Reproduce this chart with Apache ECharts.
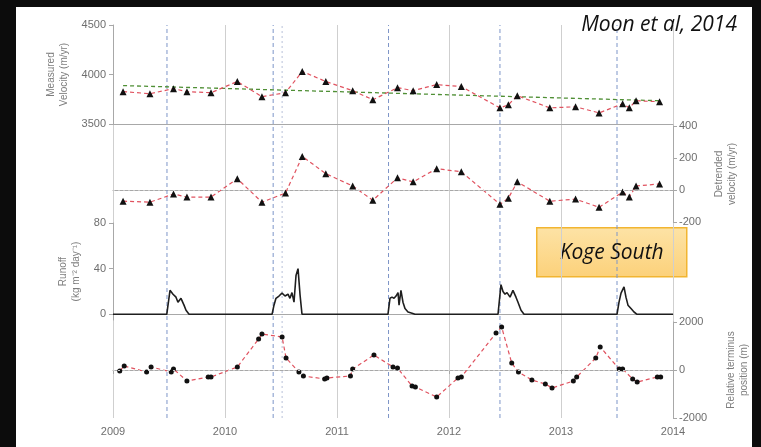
<!DOCTYPE html>
<html>
<head>
<meta charset="utf-8">
<script src="https://cdn.jsdelivr.net/npm/echarts@6/dist/echarts.min.js"></script>
<style>
  html, body { margin: 0; padding: 0; background: #0c0c0c; }
  #paper { position: absolute; left: 16px; top: 7px; width: 736px; height: 440px; background: #ffffff; }
  #chart { position: absolute; left: 0; top: 0; width: 761px; height: 447px; }
</style>
</head>
<body>
<div id="paper"></div>
<div id="chart"></div>
<script>
// measured / detrended velocity (same dates)
var velYears = [2009.09, 2009.33, 2009.54, 2009.66, 2009.875, 2010.11, 2010.33, 2010.54, 2010.69, 2010.90,
                2011.14, 2011.32, 2011.54, 2011.68, 2011.89, 2012.11, 2012.455, 2012.53, 2012.61, 2012.90,
                2013.13, 2013.34, 2013.55, 2013.61, 2013.67, 2013.88];
var velValues = [3827, 3806, 3857, 3827, 3816, 3929, 3776, 3816, 4031, 3929,
                 3837, 3745, 3867, 3837, 3898, 3878, 3663, 3694, 3786, 3663,
                 3674, 3612, 3704, 3663, 3735, 3725];
var detrendedValues = [-70, -76, -25, -44, -44, 70, -76, -19, 210, 102,
                       25, -64, 76, 51, 133, 114, -89, -51, 51, -70,
                       -57, -108, -13, -44, 25, 38];
var trendYears = [2009.09, 2013.88];
var trendValues = [3888, 3735];

// runoff
var runoffYears = [2009.0, 2009.48, 2009.509, 2009.536, 2009.5625, 2009.58, 2009.607, 2009.634, 2009.652, 2009.679,
                   2010.42, 2010.4375, 2010.455, 2010.482, 2010.509, 2010.536, 2010.5625, 2010.58, 2010.598, 2010.616,
                   2010.634, 2010.652, 2010.67, 2010.6875,
                   2011.455, 2011.473, 2011.491, 2011.509, 2011.527, 2011.545, 2011.554, 2011.571, 2011.589, 2011.607,
                   2011.634, 2011.67, 2011.696,
                   2012.4375, 2012.464, 2012.482, 2012.5, 2012.518, 2012.545, 2012.571, 2012.598, 2012.616, 2012.643, 2012.67,
                   2013.5, 2013.518, 2013.536, 2013.5625, 2013.58, 2013.598, 2013.625, 2013.652, 2013.679, 2014.0];
var runoffValues = [0, 0, 21, 17.6, 15, 10.6, 14, 8, 3.5, 0,
                    0, 8, 14, 16, 18.5, 16, 17.6, 14, 19, 10.6,
                    34, 40, 17, 0,
                    0, 14, 15, 14, 16, 19, 8, 21, 10.6, 5,
                    2, 1, 0,
                    0, 26, 20, 17.6, 19, 15, 21, 15, 10.6, 3.5, 0,
                    0, 10.6, 18.5, 24, 15, 8, 5, 2, 0, 0];

// relative terminus position
var termYears = [2009.06, 2009.10, 2009.30, 2009.34, 2009.52, 2009.54, 2009.66, 2009.85, 2009.875, 2010.11,
                 2010.30, 2010.33, 2010.51, 2010.545, 2010.66, 2010.70, 2010.89, 2010.91, 2011.12, 2011.14,
                 2011.33, 2011.50, 2011.54, 2011.67, 2011.70, 2011.89, 2012.08, 2012.11, 2012.42, 2012.47,
                 2012.56, 2012.62, 2012.74, 2012.86, 2012.92, 2013.11, 2013.14, 2013.31, 2013.35, 2013.52,
                 2013.55, 2013.64, 2013.68, 2013.86, 2013.89];
var termValues = [-42, 167, -83, 125, -83, 42, -458, -292, -292, 125,
                  1290, 1500, 1375, 500, -83, -250, -375, -333, -250, 42,
                  625, 125, 83, -667, -708, -1125, -333, -292, 1540, 1790,
                  290, -83, -417, -583, -750, -458, -292, 500, 958, 42,
                  42, -375, -500, -292, -292];

// melt-season markers and year ticks
var seasonLines = [2009.482, 2010.43, 2011.46, 2012.455, 2013.5];
var extraLines = [2010.51];
var yearTicks = [2009, 2010, 2011, 2012, 2013, 2014];

function zip(xs, ys) {
  var out = [];
  for (var i = 0; i < xs.length; i++) out.push([xs[i], ys[i]]);
  return out;
}

var labelStyle = { color: '#6e6e6e', fontSize: 11, fontFamily: 'Liberation Sans' };
var nameStyle = { color: '#7d7d7d', fontSize: 10, fontFamily: 'Liberation Sans', lineHeight: 13 };
var axisGray = { color: '#a8a8a8', width: 1 };
var plain = function (v) { return String(v); };

function hiddenX(idx, showLine) {
  return {
    type: 'value', gridIndex: idx, min: 2009, max: 2014, interval: 1,
    axisLine: { show: showLine, lineStyle: axisGray },
    axisTick: { show: false }, axisLabel: { show: false }, splitLine: { show: false }
  };
}

// full-height vertical line through the overlay grid
function vLine(v, color, dash) {
  return {
    type: 'line', xAxisIndex: 4, yAxisIndex: 4, z: 1, silent: true,
    data: [[v, 0], [v, 1]], symbol: 'none',
    lineStyle: { color: color, type: dash, width: 1 }
  };
}

var series = [];
seasonLines.forEach(function (v) { series.push(vLine(v, '#7d95c8', [4, 3])); });
extraLines.forEach(function (v) { series.push(vLine(v, '#b7c0d8', [2, 3])); });

series.push(
  {
    name: 'trend', type: 'line', xAxisIndex: 0, yAxisIndex: 0, z: 3,
    data: zip(trendYears, trendValues), symbol: 'none',
    lineStyle: { color: '#4f8f35', type: [4, 3], width: 1.3 }
  },
  {
    name: 'velocity', type: 'line', xAxisIndex: 0, yAxisIndex: 0, z: 4,
    data: zip(velYears, velValues), symbol: 'triangle', symbolSize: 7,
    itemStyle: { color: '#111' },
    lineStyle: { color: '#e0525f', type: [4, 3], width: 1.2 }
  },
  {
    name: 'detrended', type: 'line', xAxisIndex: 1, yAxisIndex: 1, z: 4,
    data: zip(velYears, detrendedValues), symbol: 'triangle', symbolSize: 7,
    itemStyle: { color: '#111' },
    lineStyle: { color: '#e0525f', type: [4, 3], width: 1.2 },
    markLine: {
      silent: true, symbol: ['none', 'none'], label: { show: false },
      lineStyle: { color: '#c8c8c8', type: [2, 3], width: 1 },
      data: [{ yAxis: 0 }]
    }
  },
  {
    name: 'runoff', type: 'line', xAxisIndex: 2, yAxisIndex: 2, z: 4,
    data: zip(runoffYears, runoffValues), symbol: 'none',
    lineStyle: { color: '#1e1e1e', width: 1.6 }
  },
  {
    name: 'terminus', type: 'line', xAxisIndex: 3, yAxisIndex: 3, z: 4,
    data: zip(termYears, termValues), symbol: 'circle', symbolSize: 5,
    itemStyle: { color: '#111' },
    lineStyle: { color: '#e0525f', type: [4, 3], width: 1.2 },
    markLine: {
      silent: true, symbol: ['none', 'none'], label: { show: false },
      lineStyle: { color: '#c8c8c8', type: [2, 3], width: 1 },
      data: [{ yAxis: 0 }]
    }
  }
);

var chart = echarts.init(document.getElementById('chart'));
chart.setOption({
  animation: false,
  grid: [
    { left: 113, right: 88, top: 25, height: 99 },
    { left: 113, right: 88, top: 126, height: 96 },
    { left: 113, right: 88, top: 223, height: 97 },
    { left: 113, right: 88, top: 322, height: 96 },
    { left: 113, right: 88, top: 25, height: 393 }
  ],
  xAxis: [
    hiddenX(0, true),
    hiddenX(1, true),
    hiddenX(2, true),
    {
      type: 'value', gridIndex: 3, min: 2009, max: 2014, interval: 1,
      axisLine: { show: true, lineStyle: axisGray },
      axisTick: { show: true, length: 4, lineStyle: axisGray },
      axisLabel: Object.assign({ margin: 8, formatter: function (v) { return yearTicks.indexOf(v) >= 0 ? String(v) : ''; } }, labelStyle),
      splitLine: { show: false }
    },
    {
      type: 'value', gridIndex: 4, min: 2009, max: 2014, interval: 1,
      axisLine: { show: false }, axisTick: { show: false }, axisLabel: { show: false },
      splitLine: { show: true, lineStyle: { color: '#cfcfcf', width: 1 } }
    }
  ],
  yAxis: [
    {
      type: 'value', gridIndex: 0, min: 3500, max: 4500, interval: 500, position: 'left',
      name: 'Measured\nVelocity (m/yr)', nameLocation: 'middle', nameRotate: 90, nameGap: 37,
      nameTextStyle: nameStyle,
      axisLine: { show: true, lineStyle: axisGray },
      axisTick: { show: true, length: 4, lineStyle: axisGray },
      axisLabel: Object.assign({ margin: 7, formatter: plain }, labelStyle),
      splitLine: { show: false }
    },
    {
      type: 'value', gridIndex: 1, min: -200, max: 400, interval: 200, position: 'right',
      name: 'Detrended\nvelocity (m/yr)', nameLocation: 'middle', nameRotate: 90, nameGap: 40,
      nameTextStyle: nameStyle,
      axisLine: { show: true, lineStyle: axisGray },
      axisTick: { show: true, length: 4, lineStyle: axisGray },
      axisLabel: Object.assign({ margin: 6, formatter: plain }, labelStyle),
      splitLine: { show: false }
    },
    {
      type: 'value', gridIndex: 2, min: -5, max: 80, position: 'left',
      name: 'Runoff\n(kg m\u207B\u00B2 day\u207B\u00B9)', nameLocation: 'middle', nameRotate: 90, nameGap: 28,
      nameTextStyle: nameStyle,
      axisLine: { show: true, lineStyle: axisGray },
      axisTick: { show: true, length: 4, lineStyle: axisGray, customValues: [0, 40, 80] },
      axisLabel: Object.assign({ margin: 7, customValues: [0, 40, 80], formatter: plain }, labelStyle),
      splitLine: { show: false }
    },
    {
      type: 'value', gridIndex: 3, min: -2000, max: 2000, interval: 2000, position: 'right',
      name: 'Relative terminus\nposition (m)', nameLocation: 'middle', nameRotate: 90, nameGap: 52,
      nameTextStyle: nameStyle,
      axisLine: { show: true, lineStyle: axisGray },
      axisTick: { show: true, length: 4, lineStyle: axisGray },
      axisLabel: Object.assign({ margin: 6, formatter: plain }, labelStyle),
      splitLine: { show: false }
    },
    { type: 'value', gridIndex: 4, min: 0, max: 1, show: false }
  ],
  series: series,
  graphic: [
    {
      type: 'text', right: 24, top: 15, z: 10,
      style: { text: 'Moon et al, 2014', fill: '#111', font: 'italic 21px "Open Sans"' }
    },
    {
      type: 'group', left: 536, top: 227, z: 10,
      children: [
        {
          type: 'rect', shape: { x: 0, y: 0, width: 150, height: 49 },
          style: {
            fill: new echarts.graphic.LinearGradient(0, 0, 0, 1, [
              { offset: 0, color: '#fde3a6' }, { offset: 1, color: '#fcd17a' }
            ]),
            stroke: '#f2b531', lineWidth: 1.5
          }
        },
        {
          type: 'text', x: 75, y: 25,
          style: { text: 'Koge South', fill: '#111', font: 'italic 21px "Open Sans"', align: 'center', verticalAlign: 'middle' }
        }
      ]
    }
  ]
});
</script>
</body>
</html>
